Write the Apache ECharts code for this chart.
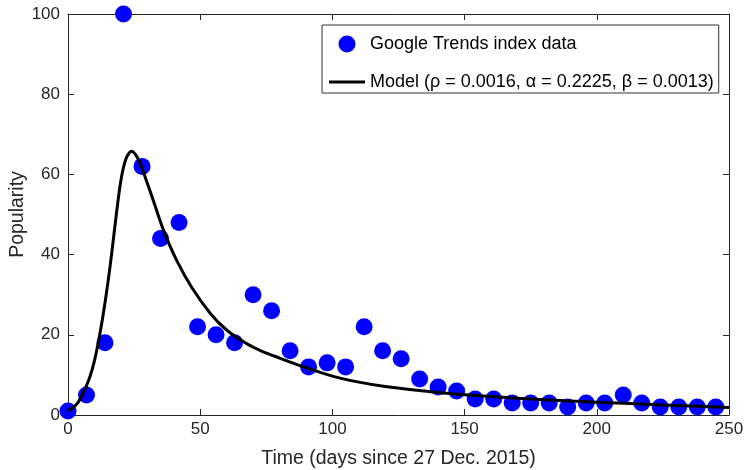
<!DOCTYPE html>
<html>
<head>
<meta charset="utf-8">
<script src="https://cdn.jsdelivr.net/npm/echarts@6/dist/echarts.min.js"></script>
<style>html,body{margin:0;padding:0;background:#fff;}#c{width:746px;height:470px;}</style>
</head>
<body>
<div id="c"></div>
<script>
const dataDays = [0,7,14,21,28,35,42,49,56,63,70,77,84,91,98,105,112,119,126,133,140,147,154,161,168,175,182,189,196,203,210,217,224,231,238,245];
const dataValues = [1,5,18,100,62,44,48,22,20,18,30,26,16,12,13,12,22,16,14,9,7,6,4,4,3,3,3,2,3,3,5,3,2,2,2,2];
const modelDays = [0,3,5,8,10,12,14,16,18,20,22,24,26,28,30,32,36,41,47,54,60,67,73,80,90,100,110,120,140,160,180,200,225,250];
const modelValues = [1,2.5,4.5,9,13.5,20,28,37.5,48.5,58.5,64,65.8,64.5,61.5,57.8,54,46.3,38.7,31.6,25.2,21.2,18,16,14.2,11.8,9.7,8.2,7.1,5.6,4.6,3.8,3.2,2.5,1.9];
const xTicks = {min:0, max:250, interval:50};
const yTicks = {min:0, max:100, interval:20};
const dataName = 'Google Trends index data';
const modelName = 'Model (ρ = 0.0016, α = 0.2225, β = 0.0013)';

const font = 'Liberation Sans, Arial, Helvetica, sans-serif';
const axisColor = '#262626';
const chart = echarts.init(document.getElementById('c'), null, {renderer:'canvas'});
const baseAxis = {
  axisLine:{show:true, onZero:false, lineStyle:{color:axisColor, width:1}},
  axisTick:{show:true, inside:true, length:6, lineStyle:{color:axisColor}},
  splitLine:{show:false},
  axisLabel:{color:axisColor, fontSize:17, fontFamily:font}
};
chart.setOption({
  animation:false,
  backgroundColor:'#fff',
  grid:{left:68, right:17, top:14, bottom:55, show:false, containLabel:false, outerBoundsMode:'none'},
  legend:{
    show:true, orient:'vertical', left:322, top:25,
    padding:[10,5,2,7],
    itemWidth:36, itemHeight:17, itemGap:20,
    borderColor:'#333', borderWidth:1, borderRadius:0,
    backgroundColor:'#fff',
    textStyle:{fontSize:18, fontFamily:font, color:'#000'},
    data:[
      {name:dataName, icon:'circle'},
      {name:modelName, icon:'path://M0,0 L36,0 L36,3 L0,3 Z', itemStyle:{color:'#000'}}
    ]
  },
  xAxis:[
    Object.assign({}, baseAxis, {type:'value', position:'bottom', min:xTicks.min, max:xTicks.max, interval:xTicks.interval,
      name:'Time (days since 27 Dec. 2015)', nameLocation:'middle', nameGap:34, nameMoveOverlap:false,
      nameTextStyle:{fontSize:19.5, fontFamily:font, color:axisColor},
      axisLabel:{color:axisColor, fontSize:17, fontFamily:font, margin:6}}),
    Object.assign({}, baseAxis, {type:'value', position:'top', min:xTicks.min, max:xTicks.max, interval:xTicks.interval,
      axisLabel:{show:false}})
  ],
  yAxis:[
    Object.assign({}, baseAxis, {type:'value', position:'left', min:yTicks.min, max:yTicks.max, interval:yTicks.interval,
      name:'Popularity', nameLocation:'middle', nameGap:40, nameMoveOverlap:false,
      nameTextStyle:{fontSize:19.5, fontFamily:font, color:axisColor},
      axisLabel:{color:axisColor, fontSize:17, fontFamily:font, margin:8}}),
    Object.assign({}, baseAxis, {type:'value', position:'right', min:yTicks.min, max:yTicks.max, interval:yTicks.interval,
      axisLabel:{show:false}})
  ],
  series:[
    {name:dataName, type:'scatter', xAxisIndex:0, yAxisIndex:0, clip:false,
     symbol:'circle', symbolSize:17, itemStyle:{color:'#0000ff', opacity:1},
     data:dataDays.map((d,i)=>[d, dataValues[i]])},
    {name:modelName, type:'line', xAxisIndex:0, yAxisIndex:0, showSymbol:false, symbol:'none', smooth:0.3,
     lineStyle:{color:'#000', width:3}, itemStyle:{color:'#000'},
     data:modelDays.map((d,i)=>[d, modelValues[i]])}
  ]
});
</script>
</body>
</html>
